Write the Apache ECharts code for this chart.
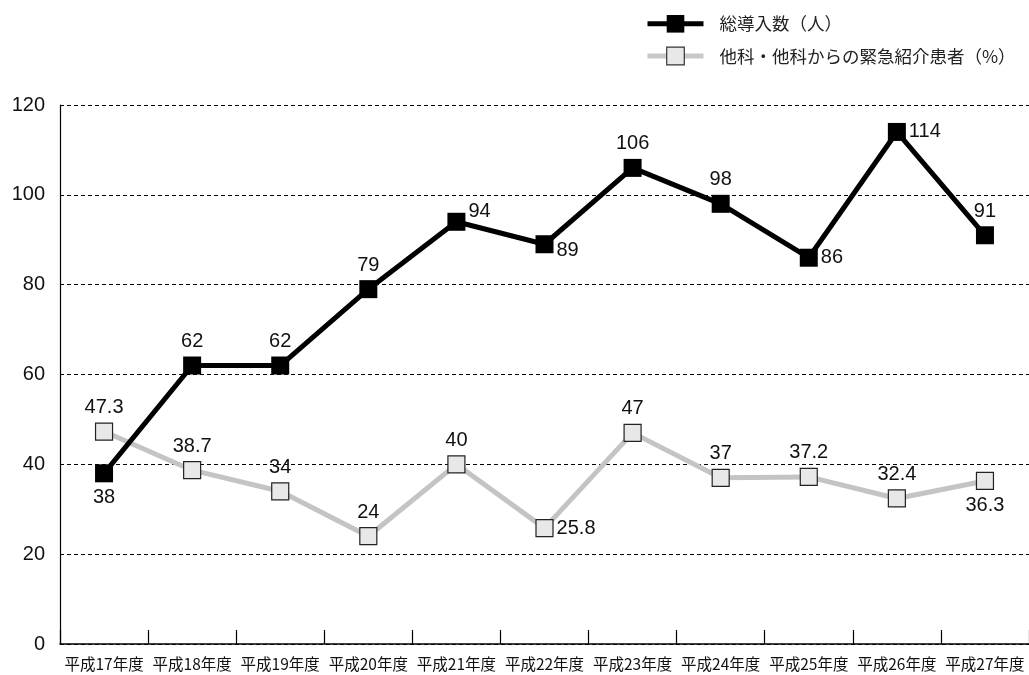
<!DOCTYPE html>
<html><head><meta charset="utf-8">
<script src="https://cdn.jsdelivr.net/npm/echarts@6/dist/echarts.min.js"></script>
<style>html,body{margin:0;padding:0;background:#fff}#c{width:1029px;height:675px}</style>
</head><body><div id="c"></div>
<script>
const categories = ['平成17年度','平成18年度','平成19年度','平成20年度','平成21年度','平成22年度','平成23年度','平成24年度','平成25年度','平成26年度','平成27年度'];
const totalValues = [38, 62, 62, 79, 94, 89, 106, 98, 86, 114, 91];
const totalLabelPos = ['bottom','top','top','top','right','right','top','top','right','right','top'];
const referralValues = [47.3, 38.7, 34, 24, 40, 25.8, 47, 37, 37.2, 32.4, 36.3];
const referralLabelPos = ['top','top','top','top','top','right','top','top','top','top','bottom'];
const yTicks = [0, 20, 40, 60, 80, 100, 120];
const seriesNames = ['総導入数（人）', '他科・他科からの緊急紹介患者（%）'];

const FONT = '"Liberation Sans", "Noto Sans CJK JP", sans-serif';
const CJK = '"Noto Sans CJK JP", "Liberation Sans", sans-serif';
const labelOffsets = { '0-4': [0, -10], '0-5': [0, 6] };
function mk(vals, pos, si) {
  return vals.map((v, i) => ({
    value: v,
    label: { position: pos[i], distance: pos[i] === 'right' ? 3 : 5, offset: labelOffsets[si + '-' + i] || [0, 0] }
  }));
}
const chart = echarts.init(document.getElementById('c'), null, { renderer: 'canvas' });
chart.setOption({
  animation: false,
  backgroundColor: '#fff',
  textStyle: { fontFamily: FONT },
  legend: {
    orient: 'vertical', left: 640, top: 10, itemGap: 14,
    itemWidth: 56, itemHeight: 22,
    textStyle: { fontSize: 17.5, color: '#222', fontFamily: CJK, padding: [0, 0, 0, 11] },
    data: [
      { name: seriesNames[0], itemStyle: { color: '#000' }, lineStyle: { color: '#000', width: 5 } },
      { name: seriesNames[1], itemStyle: { color: '#e8e8e8', borderColor: '#333', borderWidth: 1.2 }, lineStyle: { color: '#c8c8c8', width: 5 } }
    ]
  },
  grid: { left: 60, top: 105, width: 972, bottom: 31, containLabel: false },
  xAxis: {
    type: 'category', data: categories, boundaryGap: true,
    axisLine: { lineStyle: { color: '#000', width: 1.5 } },
    axisTick: { show: true, interval: 0, inside: true, length: 14, lineStyle: { color: '#000', width: 1.2 } },
    axisLabel: { interval: 0, fontSize: 15.5, color: '#111', margin: 12, fontFamily: CJK }
  },
  yAxis: {
    type: 'value', min: 0, max: 120, interval: 20,
    axisLine: { show: true, lineStyle: { color: '#000', width: 1.2 } },
    axisTick: { show: false },
    axisLabel: { fontSize: 20, color: '#111', margin: 15, fontFamily: FONT,
      formatter: v => yTicks.includes(v) ? String(v) : '' },
    splitLine: { lineStyle: { color: '#000', type: [4, 3], width: 1 } }
  },
  series: [
    {
      name: seriesNames[1], type: 'line', data: mk(referralValues, referralLabelPos, 1),
      symbol: 'rect', symbolSize: 17, z: 2,
      lineStyle: { color: '#c4c4c4', width: 5 },
      itemStyle: { color: '#e8e8e8', borderColor: '#222', borderWidth: 1.2 },
      label: { show: true, fontSize: 20, color: '#111', fontFamily: FONT }
    },
    {
      name: seriesNames[0], type: 'line', data: mk(totalValues, totalLabelPos, 0),
      symbol: 'rect', symbolSize: 18, z: 3,
      lineStyle: { color: '#000', width: 5 },
      itemStyle: { color: '#000', borderColor: '#000', borderWidth: 0 },
      label: { show: true, fontSize: 20, color: '#111', fontFamily: FONT }
    }
  ]
});
</script></body></html>
